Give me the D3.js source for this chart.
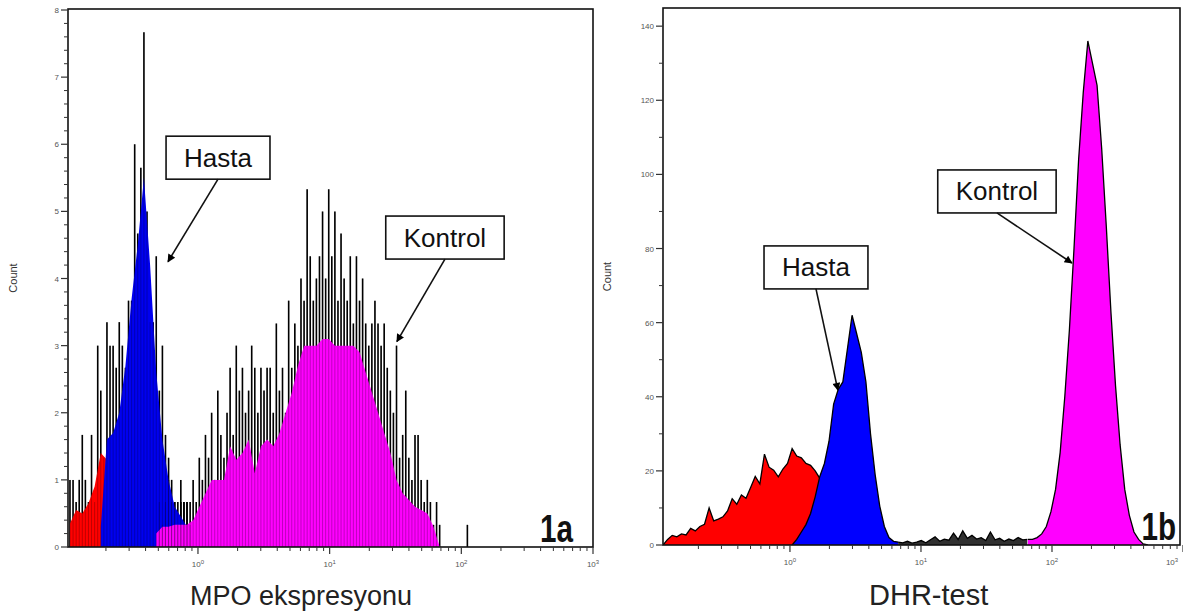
<!DOCTYPE html>
<html><head><meta charset="utf-8">
<script src="https://cdn.jsdelivr.net/npm/d3@7"></script>
<style>body{margin:0;background:#fff}svg{display:block}</style>
</head><body>
<svg id="chart" width="1183" height="613"></svg>
<script>
// ================= DATA =================
// Histograms on a log channel grid: first bin (log10 of intensity), bin step (decades), counts per bin.
// Panel 1a: MPO ekspresyonu
const mpoSpikeStep = 0.0234;
const mpoLowSpikeStart = -0.972;      // negative control + Hasta region (black outline spikes)
const mpoLowSpikes = [1.0,1.0,0.67,1.0,1.67,1.0,0.67,1.67,0.67,3.0,2.33,1.33,3.35,3.0,3.0,2.67,3.35,3.0,2.67,3.67,3.67,6.0,4.67,5.65,7.67,5.0,3.35,3.35,4.33,2.33,3.0,1.67,1.33,1.0,0.67,0.67,0.67,0.67,0.67,0.67];
const mpoKontrolSpikeStart = -0.294;
const mpoKontrolSpikes = [0.67,0.33,0.67,1.0,0.67,0.67,0.33,1.0,0.67,0.67,0.33,1.0,0.67,1.33,1.0,1.67,1.33,2.0,1.0,2.33,1.67,1.33,2.0,2.67,1.67,3.0,2.33,2.67,2.0,2.33,3.0,2.67,2.0,2.67,2.33,2.67,2.67,2.0,3.33,2.33,2.67,2.0,3.67,2.67,3.33,3.0,4.0,3.67,5.33,4.33,3.67,4.0,4.33,5.0,4.0,5.33,4.33,5.0,3.67,4.67,4.0,3.67,4.33,3.33,4.33,3.67,4.0,3.33,3.0,3.33,3.67,3.33,3.0,3.33,2.67,2.33,2.0,3.0,1.33,1.67,2.33,1.33,1.0,1.67,1.67,1.0,0.67,1.0,0.67,0.33,0.67,0.33,0,0,0,0,0,0,0,0,0.33];
const mpoFillStep = 0.0468;
const mpoNegStart = -0.972;
const mpoNeg = [0.35,0.55,0.5,0.65,0.9,1.4,1.3,0.6,0];
const mpoHastaStart = -0.738;
const mpoHasta = [0.3,1.6,1.7,2.0,2.7,3.7,4.5,5.5,4.2,2.6,1.6,1.0,0.6,0.45,0.3,0];
const mpoKontrolStart = -0.317;
const mpoKontrol = [0.2,0.3,0.3,0.33,0.33,0.33,0.4,0.6,0.8,1.0,1.0,1.0,1.5,1.3,1.4,1.6,1.1,1.5,1.6,1.5,1.7,2.0,2.3,2.7,3.0,3.0,3.0,3.1,3.1,3.0,3.0,3.0,3.0,2.9,2.6,2.3,2.0,1.7,1.4,1.0,0.8,0.7,0.6,0.55,0.5,0.3,0];

// Panel 1b: DHR-test
const dhrStep = 0.0352;
const dhrNegStart = -0.969;
const dhrNeg = [0,1.5,2.6,2.2,3.0,2.7,4.5,3.8,5.0,5.6,10.0,6.5,7.0,7.6,9.2,12.5,11.0,13.5,12.6,15.5,18.5,16.5,24.5,21.0,20.2,18.4,20.5,22.0,26.0,24.0,23.5,22.0,21.5,20.0,18.0,14.0,8.0,3.0,0];
const dhrHastaStart = 0.0165;
const dhrHasta = [0,1.5,3.5,5.5,8.5,13,18.5,22,28,38,42,44,53,62,57,52,44,30,19,10.5,5,2,1,0.8];
const dhrBaseStart = 0.826;
const dhrBase = [0.8,0.6,1.0,0.5,0.8,1.2,0.6,1.4,2.2,1.0,1.6,1.3,3.2,1.5,3.8,1.8,2.6,1.6,2.0,1.2,3.5,1.4,1.8,1.0,1.6,1.2,2.0,1.4,1.5];
const dhrKontrolStart = 1.816;
const dhrKontrol = [1.5,1.5,2,3,5,9,15,25,40,58,80,104,122,136,130,124,107,86,63,43,27,15,8,3.5,1.5,0.3,0];

// Axis ticks / labels
const decadeTicks = [1, 10, 100, 1000];
const decadeExponents = ["0", "1", "2", "3"];
const mpoCountTicks = [0,1,2,3,4,5,6,7,8];
const dhrCountTicks = [0,20,40,60,80,100,120,140];

// Annotations (data coordinates: intensity, count)
const annotations = [
  {panel: 0, label: "Hasta",   box: [1.42, 5.80],  tip: [0.592, 4.25]},
  {panel: 0, label: "Kontrol", box: [75.1, 4.61],  tip: [32.4, 3.06]},
  {panel: 1, label: "Hasta",   box: [1.58, 74.9],  tip: [2.32, 41.8]},
  {panel: 1, label: "Kontrol", box: [38.0, 95.4],  tip: [142, 76.1]}
];

// ================= DRAW =================
const FONT = '"Liberation Sans", Arial, Helvetica, sans-serif';
const svg = d3.select("#chart");
svg.append("rect").attr("width",1183).attr("height",613).attr("fill","#fff");

const pts = (start, step, counts) => counts.map((c,i) => ({x: Math.pow(10, start + i*step), c}));

const panels = [
  {x: d3.scaleLog().domain([Math.pow(10,-0.987), 1000]).range([68, 593]),
   y: d3.scaleLinear().domain([0, 8.015]).range([547, 9]),
   yTicks: mpoCountTicks, yMinorStep: 0.2, title: "MPO ekspresyonu", titleX: 190, titleSize: 27,
   tag: "1a", tagPad: 20, countX: 17},
  {x: d3.scaleLog().domain([Math.pow(10,-0.969), Math.pow(10,2.977)]).range([663, 1180]),
   y: d3.scaleLinear().domain([0, 144.9]).range([545, 8]),
   yTicks: dhrCountTicks, yMinorStep: 10, title: "DHR-test", titleX: 869, titleSize: 29,
   tag: "1b", tagPad: 4, countX: 611}
];

const defs = svg.append("defs");
defs.append("marker").attr("id","arrow").attr("viewBox","0 0 10 10").attr("refX",9).attr("refY",5)
  .attr("markerWidth",10).attr("markerHeight",8).attr("markerUnits","userSpaceOnUse").attr("orient","auto")
  .append("path").attr("d","M0,0 L10,5 L0,10 z").attr("fill","#000");

panels.forEach((p, pi) => {
  const [x0, x1] = p.x.range(), [y0, y1] = p.y.range();
  defs.append("clipPath").attr("id","clip"+pi).append("rect")
    .attr("x",x0).attr("y",y1).attr("width",x1-x0).attr("height",y0-y1);
  p.g = svg.append("g");
  p.plot = p.g.append("g").attr("clip-path",`url(#clip${pi})`);
});

// ---- Panel 1a ----
(function(){
  const p = panels[0], x = p.x, y = p.y;
  const area = d3.area().x(d => x(d.x)).y0(y(0)).y1(d => y(d.c));
  const spikes = pts(mpoLowSpikeStart, mpoSpikeStep, mpoLowSpikes)
      .concat(pts(mpoKontrolSpikeStart, mpoSpikeStep, mpoKontrolSpikes));
  p.plot.selectAll("line.spike").data(spikes.filter(d=>d.c>0)).join("line").attr("class","spike")
    .attr("x1", d=>x(d.x)).attr("x2", d=>x(d.x)).attr("y1", y(0)).attr("y2", d=>y(d.c))
    .attr("stroke","#000").attr("stroke-width",1.6);
  p.plot.append("path").datum(pts(mpoNegStart, mpoFillStep, mpoNeg)).attr("d", area).attr("fill","#ff0000");
  p.plot.append("path").datum(pts(mpoHastaStart, mpoFillStep, mpoHasta)).attr("d", area).attr("fill","#0000f0");
  p.plot.append("path").datum(pts(mpoKontrolStart, mpoFillStep, mpoKontrol)).attr("d", area).attr("fill","#ff00ff");
  p.plot.selectAll("line.spike2").data(spikes.filter(d=>d.c>0)).join("line").attr("class","spike2")
    .attr("x1", d=>x(d.x)).attr("x2", d=>x(d.x)).attr("y1", y(0)).attr("y2", d=>y(d.c))
    .attr("stroke","#000").attr("stroke-width",1).attr("stroke-opacity",0.25);
})();

// ---- Panel 1b ----
(function(){
  const p = panels[1], x = p.x, y = p.y;
  const area = d3.area().x(d => x(d.x)).y0(y(0)).y1(d => y(d.c));
  const line = d3.line().x(d => x(d.x)).y(d => y(d.c));
  [[dhrNegStart, dhrNeg, "#ff0000"], [dhrHastaStart, dhrHasta, "#0000ff"],
   [dhrBaseStart, dhrBase, "#303030"], [dhrKontrolStart, dhrKontrol, "#ff00ff"]].forEach(([s, v, col]) => {
    const d = pts(s, dhrStep, v);
    p.plot.append("path").datum(d).attr("d", area).attr("fill", col);
    p.plot.append("path").datum(d).attr("d", line).attr("fill","none").attr("stroke","#000").attr("stroke-width",1.3);
  });
})();

// ---- Axes, frames, labels ----
panels.forEach((p, pi) => {
  const g = p.g, x = p.x, y = p.y;
  const [x0, x1] = x.range(), [y0, y1] = y.range();
  g.append("rect").attr("x",x0).attr("y",y1).attr("width",x1-x0).attr("height",y0-y1)
    .attr("fill","none").attr("stroke","#111").attr("stroke-width",1.6);
  // x ticks
  const [dmin, dmax] = x.domain();
  const minors = [];
  for (let n=-1;n<=3;n++) for (let k=2;k<=9;k++){ const v=k*Math.pow(10,n); if (v>dmin && v<dmax) minors.push(v); }
  g.selectAll("line.xmin").data(minors).join("line").attr("class","xmin")
    .attr("x1",d=>x(d)).attr("x2",d=>x(d)).attr("y1",y0).attr("y2",y0+4).attr("stroke","#333").attr("stroke-width",1);
  g.selectAll("line.xmaj").data(decadeTicks).join("line").attr("class","xmaj")
    .attr("x1",d=>x(d)).attr("x2",d=>x(d)).attr("y1",y0).attr("y2",y0+7).attr("stroke","#333").attr("stroke-width",1.2);
  const xl = g.selectAll("text.xl").data(decadeTicks).join("text").attr("class","xl")
    .attr("x",d=>Math.min(x(d), 1172)).attr("y",y0+20).attr("text-anchor","middle")
    .attr("font-family",FONT).attr("font-size",8).attr("fill","#555");
  xl.append("tspan").text("10");
  xl.append("tspan").attr("dy",-3).attr("font-size",6).text((d,i)=>decadeExponents[i]);
  // y ticks
  const [ymin, ymax] = y.domain();
  const yMinors = d3.range(0, Math.round(ymax/p.yMinorStep)+1).map(i=>i*p.yMinorStep)
     .filter(v => v<=ymax && !p.yTicks.some(t=>Math.abs(t-v)<1e-6));
  g.selectAll("line.ymin").data(yMinors).join("line").attr("class","ymin")
    .attr("x1",x0-4).attr("x2",x0).attr("y1",d=>y(d)).attr("y2",d=>y(d)).attr("stroke","#333").attr("stroke-width",1);
  g.selectAll("line.ymaj").data(p.yTicks).join("line").attr("class","ymaj")
    .attr("x1",x0-7).attr("x2",x0).attr("y1",d=>y(d)).attr("y2",d=>y(d)).attr("stroke","#333").attr("stroke-width",1.2);
  g.selectAll("text.yl").data(p.yTicks).join("text").attr("class","yl")
    .attr("x",x0-9).attr("y",d=>y(d)+3).attr("text-anchor","end")
    .attr("font-family",FONT).attr("font-size",8).attr("fill","#555").text(d=>d);
  // Count label
  g.append("text").attr("transform",`translate(${p.countX},${(y0+y1)/2}) rotate(-90)`)
    .attr("text-anchor","middle").attr("font-family",FONT).attr("font-size",11).attr("fill","#333").text("Count");
  // X title
  g.append("text").attr("x",p.titleX).attr("y",605).attr("font-family",FONT).attr("font-size",p.titleSize)
    .attr("fill","#222").text(p.title);
  // Tag (condensed bold)
  g.append("g").attr("transform",`translate(${x1-p.tagPad},${y0-5}) scale(0.78,1)`)
    .append("text").attr("x",0).attr("y",0).attr("text-anchor","end").attr("font-family",FONT)
    .attr("font-size",38).attr("font-weight","bold").attr("fill","#111").text(p.tag);
});

// ---- Annotations ----
annotations.forEach(a => {
  const p = panels[a.panel], x = p.x, y = p.y;
  const cx = x(a.box[0]), cy = y(a.box[1]);
  const g = svg.append("g");
  const t = g.append("text").attr("x",cx).attr("y",cy+9).attr("text-anchor","middle")
    .attr("font-family",FONT).attr("font-size",26).attr("fill","#111").text(a.label);
  const w = t.node().getComputedTextLength() + 36, h = 43;
  g.insert("rect","text").attr("x",cx-w/2).attr("y",cy-h/2).attr("width",w).attr("height",h)
    .attr("fill","#fff").attr("stroke","#111").attr("stroke-width",1.6);
  g.append("line").attr("x1",cx).attr("y1",cy+h/2).attr("x2",x(a.tip[0])).attr("y2",y(a.tip[1]))
    .attr("stroke","#111").attr("stroke-width",1.6).attr("marker-end","url(#arrow)");
});
</script>
</body></html>
